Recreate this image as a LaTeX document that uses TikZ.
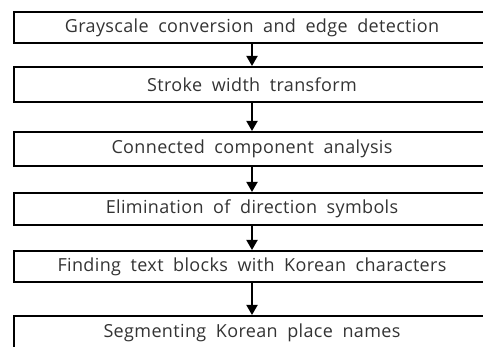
\documentclass[tikz,border=0pt]{standalone}
\usepackage{fontspec}
\setmainfont[WordSpace=1.9,LetterSpace=2]{Open Sans}
\usetikzlibrary{arrows.meta}

\begin{document}
\begin{tikzpicture}[x=1pt,y=-1pt,
  stepbox/.style={draw,line width=2pt,minimum width=476pt,inner sep=0pt,
    font=\fontsize{18}{21}\selectfont,text=black!80},
  flow/.style={-{Triangle[length=10pt,width=11pt]},line width=1.8pt}]
\useasboundingbox (0,0) rectangle (483,347);
\clip (0,0) rectangle (483,347);

% processing steps
\node[stepbox,minimum height=31pt] (s1) at (252,27.5) {Grayscale conversion and edge detection};
\node[stepbox,minimum height=35pt] (s2) at (252,84.5) {Stroke width transform};
\node[stepbox,minimum height=34pt] (s3) at (252,149) {Connected component analysis};
\node[stepbox,minimum height=32pt] (s4) at (252,209) {Elimination of direction symbols};
\node[stepbox,minimum height=31pt] (s5) at (252,266.5) {Finding text blocks with Korean characters};
\node[stepbox,minimum height=33pt] (s6) at (252,332.5) {Segmenting Korean place names};

% arrows
\foreach\a/\b in {s1/s2, s2/s3, s3/s4, s4/s5, s5/s6}
\draw[flow] (\a) -- (\b);

\end{tikzpicture}
\end{document}
